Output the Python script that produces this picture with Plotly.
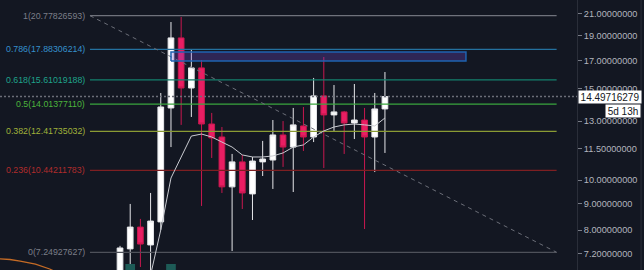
import numpy as np
import plotly.graph_objects as go

# ---- data ----
idx = list(range(27))
opens  = [6.45, 7.36, 8.11, 7.49, 8.30, 13.78, 18.82, 15.06, 16.47, 12.83, 12.11, 9.70, 10.84, 9.40,
          10.84, 10.93, 12.22, 11.58, 12.72, 12.11, 14.54, 13.36, 13.54, 12.89, 13.06, 12.11, 13.72]
highs  = [7.46, 8.99, 8.41, 9.44, 14.73, 20.20, 20.66, 17.84, 17.06, 13.48, 12.66, 11.23, 11.18, 11.08,
          11.90, 13.06, 13.00, 13.78, 13.84, 15.75, 17.29, 15.26, 13.60, 15.33, 13.78, 14.73, 16.17]
lows   = [6.30, 6.88, 6.79, 6.50, 8.01, 11.58, 12.78, 13.24, 8.91, 11.03, 9.44, 7.29, 8.79, 8.37,
          10.18, 9.61, 10.60, 9.48, 11.38, 11.84, 10.55, 12.44, 11.23, 12.00, 8.04, 10.36, 11.28]
closes = [7.39, 8.11, 7.52, 8.33, 13.84, 18.82, 15.06, 16.47, 12.83, 12.06, 9.70, 10.84, 9.44, 10.88,
          10.98, 12.22, 11.58, 12.78, 12.11, 14.54, 13.36, 13.54, 12.89, 13.06, 12.11, 13.72, 14.497]

ma_idx = list(range(3, 27))
ma_vals = [6.55, 8.01, 10.09, 11.08, 12.16, 12.27, 12.11, 11.84, 11.58, 11.18, 11.08, 11.08, 11.13,
           11.28, 11.58, 11.69, 12.11, 12.44, 12.66, 12.78, 12.83, 12.78, 12.72, 13.18]

vol_idx = idx
volumes = [0.5, 1.0, 0.6, 0.7, 0.85, 1.0, 0.8, 0.5, 0.6, 0.4, 0.5, 0.45, 0.4, 0.35,
           0.3, 0.4, 0.35, 0.4, 0.3, 0.45, 0.5, 0.3, 0.3, 0.3, 0.45, 0.4, 0.35]

orange_idx = [-11.8, -10.8, -9.8, -8.3, -6.9, -6.3]
orange_vals = [7.04, 7.02, 6.97, 6.88, 6.73, 6.64]

fib_ratio_labels = ["1", "0.786", "0.618", "0.5", "0.382", "0.236", "0"]
fib_prices = [20.77826593, 17.88306214, 15.61019188, 14.01377110, 12.41735032, 10.44211783, 7.24927627]
fib_line_colors = ["#6f727c", "#24719f", "#15806d", "#3aa63e", "#8a9b34", "#7e1f22", "#4e515a"]
fib_text_colors = ["#7b7e88", "#3590cc", "#1fa38b", "#4cb43c", "#a0b23a", "#b02c2c", "#7b7e88"]
fib_x_start, fib_x_end = -2.95, 42.85

zone_x = [5.0, 33.95]
zone_prices = [16.99, 17.68]

last_price = 14.49716279
countdown = "5d 13h"

y_ticks = [7.2, 8, 9, 10, 11.5, 13, 15, 17, 19, 21]
y_ticktext = ["%.8f" % v for v in y_ticks]

x_range = [-11.78, 44.85]
y_range = [6.70, 22.28]

BG = "#131722"
FONT = "Liberation Sans"

fig = go.Figure()

# volume peeking from below
fig.add_trace(go.Bar(x=vol_idx, y=volumes, yaxis="y2", marker_color="#1d5b57",
                     marker_line_width=0, width=0.95, hoverinfo="skip", showlegend=False))

# orange indicator
fig.add_trace(go.Scatter(x=orange_idx, y=orange_vals, mode="lines",
                         line=dict(color="#c56b25", width=1.3), hoverinfo="skip", showlegend=False))

# last price dotted line
fig.add_trace(go.Scatter(x=x_range, y=[last_price, last_price], mode="lines",
                         line=dict(color="#6b6e78", width=1.5, dash="2px,2px"),
                         hoverinfo="skip", showlegend=False))

# fib lines
for p, c in zip(fib_prices, fib_line_colors):
    fig.add_trace(go.Scatter(x=[fib_x_start, fib_x_end], y=[p, p], mode="lines",
                             line=dict(color=c, width=1.2), hoverinfo="skip", showlegend=False))

# diagonal dashed trend line
fig.add_trace(go.Scatter(x=[fib_x_start, fib_x_end], y=[fib_prices[0], fib_prices[-1]], mode="lines",
                         line=dict(color="#6b6e78", width=1, dash="4px,4px"),
                         hoverinfo="skip", showlegend=False))

# candles
fig.add_trace(go.Candlestick(x=idx, open=opens, high=highs, low=lows, close=closes,
                             increasing=dict(line=dict(color="#e6e7ea", width=1), fillcolor="#ffffff"),
                             decreasing=dict(line=dict(color="#c8184f", width=1), fillcolor="#e91e63"),
                             whiskerwidth=0, hoverinfo="skip", showlegend=False))

# moving average
fig.add_trace(go.Scatter(x=ma_idx, y=ma_vals, mode="lines",
                         line=dict(color="#c9cbd1", width=1), hoverinfo="skip", showlegend=False))

# zone rectangle (above candles)
fig.add_trace(go.Scatter(x=[zone_x[0], zone_x[1], zone_x[1], zone_x[0], zone_x[0]],
                         y=[zone_prices[0], zone_prices[0], zone_prices[1], zone_prices[1], zone_prices[0]],
                         mode="lines", fill="toself", fillcolor="rgba(120,80,220,0.28)",
                         line=dict(color="#1f63b0", width=1.5), hoverinfo="skip", showlegend=False))

shapes = [dict(type="line", xref="paper", yref="paper", x0=1.111, x1=1.111, y0=0, y1=1,
               line=dict(color="#2a2e39", width=1))]

annotations = []
for lab, p, c in zip(fib_ratio_labels, fib_prices, fib_text_colors):
    annotations.append(dict(x=fib_x_start, y=np.log10(p), xref="x", yref="y",
                            text="%s(%.8f)" % (lab, p), showarrow=False,
                            xanchor="right", yanchor="middle", xshift=-3,
                            font=dict(family=FONT, size=8.8, color=c)))
annotations.append(dict(x=1.0, y=np.log10(last_price), xref="paper", yref="y",
                        text="%.8f" % last_price, showarrow=False, xanchor="left", yanchor="middle",
                        xshift=1, bgcolor="#ffffff", borderpad=0, width=62, height=12, align="center",
                        font=dict(family=FONT, size=10, color="#131722")))
annotations.append(dict(x=1.0485, y=1 - 111 / 270, xref="paper", yref="paper",
                        text=countdown, showarrow=False, xanchor="left", yanchor="middle",
                        bgcolor="#ffffff", borderpad=0, width=34, height=12, align="center",
                        font=dict(family=FONT, size=10, color="#131722")))

fig.update_layout(
    width=644, height=270,
    margin=dict(l=0, r=67, t=0, b=0),
    paper_bgcolor=BG, plot_bgcolor=BG,
    boxgap=0.2,
    shapes=shapes, annotations=annotations,
    xaxis=dict(range=x_range, visible=False, rangeslider=dict(visible=False), fixedrange=True),
    yaxis=dict(type="log", range=[np.log10(y_range[0]), np.log10(y_range[1])], side="right",
               tickvals=y_ticks, ticktext=y_ticktext, ticks="outside", ticklen=4,
               tickcolor="#787b86", showgrid=False, zeroline=False, showline=True,
               linecolor="#2a2e39", linewidth=1,
               tickfont=dict(family=FONT, size=9.2, color="#b2b5be")),
    yaxis2=dict(overlaying="y", range=[0.9, 5.4], visible=False, showgrid=False),
    showlegend=False,
)

fig.write_html("out.html")
